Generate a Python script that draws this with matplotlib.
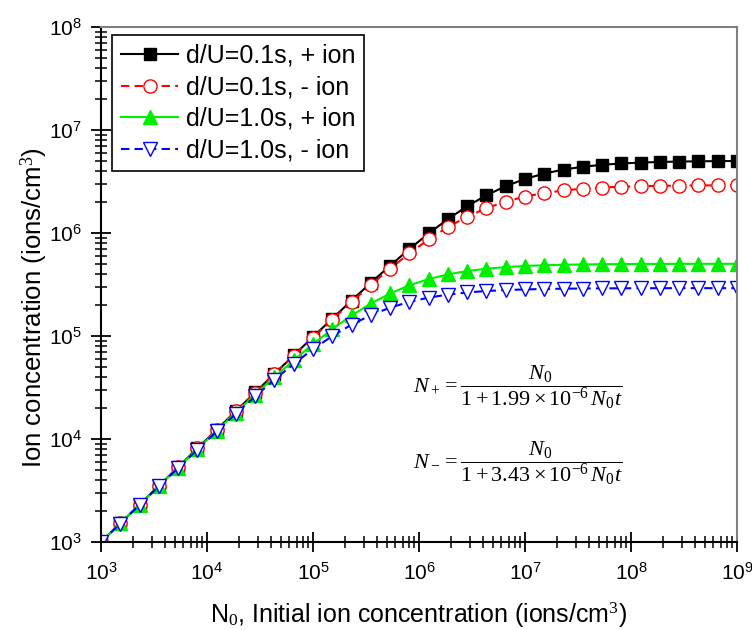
import matplotlib
matplotlib.use("Agg")
import matplotlib.pyplot as plt

# initial ion concentration N0 (ions/cm^3)
n0 = [1.0e3, 1.52e3, 2.31e3, 3.51e3, 5.34e3, 8.11e3,
      1.233e4, 1.874e4, 2.848e4, 4.329e4, 6.579e4,
      1.0e5, 1.52e5, 2.31e5, 3.51e5, 5.34e5, 8.11e5,
      1.233e6, 1.874e6, 2.848e6, 4.329e6, 6.579e6,
      1.0e7, 1.52e7, 2.31e7, 3.51e7, 5.34e7, 8.11e7,
      1.233e8, 1.874e8, 2.848e8, 4.329e8, 6.579e8, 1.0e9]

# d/U = 0.1 s, + ion
pos_01 = [1.0e3, 1.52e3, 2.31e3, 3.51e3, 5.33e3, 8.10e3,
          1.230e4, 1.867e4, 2.832e4, 4.292e4, 6.494e4,
          9.80e4, 1.475e5, 2.209e5, 3.282e5, 4.825e5, 6.98e5,
          9.90e5, 1.365e6, 1.818e6, 2.326e6, 2.849e6,
          3.345e6, 3.777e6, 4.127e6, 4.396e6, 4.593e6, 4.732e6,
          4.828e6, 4.894e6, 4.938e6, 4.967e6, 4.987e6, 5.00e6]

# d/U = 0.1 s, - ion
neg_01 = [1.0e3, 1.52e3, 2.31e3, 3.51e3, 5.33e3, 8.09e3,
          1.228e4, 1.862e4, 2.820e4, 4.266e4, 6.434e4,
          9.67e4, 1.445e5, 2.140e5, 3.134e5, 4.511e5, 6.346e5,
          8.665e5, 1.141e6, 1.441e6, 1.742e6, 2.020e6,
          2.257e6, 2.446e6, 2.589e6, 2.692e6, 2.764e6, 2.814e6,
          2.848e6, 2.871e6, 2.886e6, 2.896e6, 2.903e6, 2.907e6]

# d/U = 1.0 s, + ion
pos_10 = [998, 1.515e3, 2.30e3, 3.49e3, 5.28e3, 7.98e3,
          1.203e4, 1.806e4, 2.695e4, 3.986e4, 5.818e4,
          8.34e4, 1.167e5, 1.583e5, 2.067e5, 2.588e5, 3.103e5,
          3.570e5, 3.963e5, 4.272e5, 4.502e5, 4.669e5,
          4.785e5, 4.864e5, 4.918e5, 4.954e5, 4.978e5, 4.994e5,
          5.005e5, 5.012e5, 5.016e5, 5.019e5, 5.021e5, 5.023e5]

# d/U = 1.0 s, - ion
neg_10 = [997, 1.512e3, 2.29e3, 3.47e3, 5.24e3, 7.89e3,
          1.183e4, 1.761e4, 2.595e4, 3.769e4, 5.368e4,
          7.45e4, 9.99e4, 1.289e5, 1.593e5, 1.886e5, 2.145e5,
          2.358e5, 2.523e5, 2.645e5, 2.732e5, 2.792e5,
          2.833e5, 2.861e5, 2.879e5, 2.891e5, 2.900e5, 2.905e5,
          2.909e5, 2.911e5, 2.913e5, 2.914e5, 2.914e5, 2.915e5]

labels = ["d/U=0.1s, + ion", "d/U=0.1s, - ion",
          "d/U=1.0s, + ion", "d/U=1.0s, - ion"]

x_ticks = [1e3, 1e4, 1e5, 1e6, 1e7, 1e8, 1e9]
y_ticks = [1e3, 1e4, 1e5, 1e6, 1e7, 1e8]

plt.rcParams["font.family"] = ["Liberation Sans", "DejaVu Sans"]
plt.rcParams["mathtext.fontset"] = "custom"
plt.rcParams["mathtext.rm"] = "Liberation Serif"
plt.rcParams["mathtext.it"] = "Liberation Serif:italic"

W, H = 752, 630
fig = plt.figure(figsize=(W / 100, H / 100), dpi=100)
ax = fig.add_axes([101 / W, 1 - 542 / H, 636 / W, 515 / H])

ax.plot(n0, pos_01, "-", color="black", lw=1.5, marker="s", ms=8.5,
        mfc="black", mec="black", label=labels[0])
ax.plot(n0, neg_01, "--", dashes=(4, 2.5), color="red", lw=1.5, marker="o", ms=9.5,
        mfc="white", mec="red", label=labels[1])
ax.plot(n0, pos_10, "-", color="#00ee00", lw=1.5, marker="^", ms=10,
        mfc="#00ee00", mec="#00ee00", label=labels[2])
ax.plot(n0, neg_10, "--", dashes=(4, 2.5), color="blue", lw=1.5, marker="v", ms=10,
        mfc="white", mec="blue", label=labels[3])

ax.set_xscale("log")
ax.set_yscale("log")
ax.set_xticks(x_ticks)
ax.set_yticks(y_ticks)
ax.set_xlim(1e3, 1e9)
ax.set_ylim(1e3, 1e8)

for side in ["top", "right"]:
    ax.spines[side].set_color("#808080")
    ax.spines[side].set_linewidth(1.5)
for side in ["left", "bottom"]:
    ax.spines[side].set_linewidth(1.5)

ax.tick_params(which="major", direction="inout", length=15, width=1.3, labelsize=15)
ax.tick_params(which="minor", direction="inout", length=9, width=1.1)
ax.tick_params(axis="x", which="major", pad=7)
ax.tick_params(axis="y", which="major", pad=6)
ax.tick_params(top=False, right=False, which="both")

ax.set_xlabel("N$_0$, Initial ion concentration (ions/cm$^3$)", fontsize=18, labelpad=12)
ax.set_ylabel("Ion concentration (ions/cm$^3$)", fontsize=18.5)
ax.yaxis.set_label_coords(-0.08, 0.455)

leg = ax.legend(loc="upper left", bbox_to_anchor=(112 / W, 1 - 35 / H),
                bbox_transform=fig.transFigure, fontsize=18, borderaxespad=0,
                frameon=True, fancybox=False, edgecolor="black", framealpha=1,
                handlelength=2.3, borderpad=0.35, labelspacing=0.3, handletextpad=0.3)
leg.get_frame().set_linewidth(1.2)

ax.text(0.49, 0.30, r"$N_+=\dfrac{N_0}{1+1.99\times10^{-6}\,N_0t}$",
        transform=ax.transAxes, fontsize=16, va="center", ha="left")
ax.text(0.49, 0.153, r"$N_-=\dfrac{N_0}{1+3.43\times10^{-6}\,N_0t}$",
        transform=ax.transAxes, fontsize=16, va="center", ha="left")

fig.savefig("out.png", dpi=100)
